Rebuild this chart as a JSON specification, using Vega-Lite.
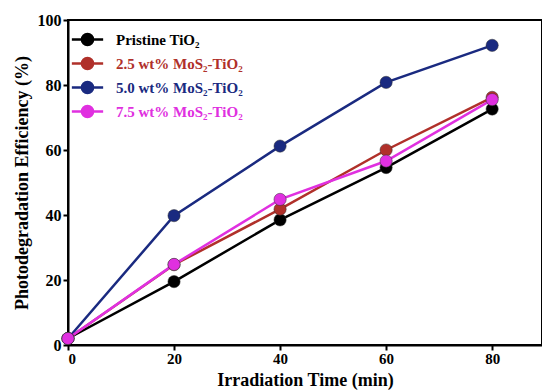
{
  "$schema": "https://vega.github.io/schema/vega-lite/v6.json",
  "width": 474,
  "height": 325,
  "autosize": "none",
  "padding": {"left": 68, "top": 20, "right": 0, "bottom": 47},
  "background": "white",
  "config": {
    "view": {"stroke": "black", "strokeWidth": 2},
    "font": "Liberation Serif"
  },
  "data": {
    "values": [
      {"t": 0, "e": 2.0, "s": "Pristine TiO₂"},
      {"t": 20, "e": 19.5, "s": "Pristine TiO₂"},
      {"t": 40, "e": 38.5, "s": "Pristine TiO₂"},
      {"t": 60, "e": 54.6, "s": "Pristine TiO₂"},
      {"t": 80, "e": 72.6, "s": "Pristine TiO₂"},
      {"t": 0, "e": 2.0, "s": "2.5 wt% MoS₂-TiO₂"},
      {"t": 20, "e": 24.7, "s": "2.5 wt% MoS₂-TiO₂"},
      {"t": 40, "e": 41.8, "s": "2.5 wt% MoS₂-TiO₂"},
      {"t": 60, "e": 60.0, "s": "2.5 wt% MoS₂-TiO₂"},
      {"t": 80, "e": 76.2, "s": "2.5 wt% MoS₂-TiO₂"},
      {"t": 0, "e": 2.0, "s": "5.0 wt% MoS₂-TiO₂"},
      {"t": 20, "e": 39.8, "s": "5.0 wt% MoS₂-TiO₂"},
      {"t": 40, "e": 61.2, "s": "5.0 wt% MoS₂-TiO₂"},
      {"t": 60, "e": 80.8, "s": "5.0 wt% MoS₂-TiO₂"},
      {"t": 80, "e": 92.2, "s": "5.0 wt% MoS₂-TiO₂"},
      {"t": 0, "e": 2.0, "s": "7.5 wt% MoS₂-TiO₂"},
      {"t": 20, "e": 24.8, "s": "7.5 wt% MoS₂-TiO₂"},
      {"t": 40, "e": 44.8, "s": "7.5 wt% MoS₂-TiO₂"},
      {"t": 60, "e": 56.6, "s": "7.5 wt% MoS₂-TiO₂"},
      {"t": 80, "e": 75.5, "s": "7.5 wt% MoS₂-TiO₂"}
    ]
  },
  "encoding": {
    "x": {
      "field": "t", "type": "quantitative",
      "scale": {"domain": [0, 89.4], "nice": false},
      "axis": {
        "title": "Irradiation Time (min)",
        "values": [0, 20, 40, 60, 80],
        "grid": false,
        "domainColor": "black", "domainWidth": 2,
        "tickColor": "black", "tickWidth": 2, "tickSize": 5,
        "labelFont": "Liberation Serif", "labelFontWeight": "bold", "labelFontSize": 15, "labelColor": "black",
        "labelPadding": 1,
        "titleFont": "Liberation Serif", "titleFontWeight": "bold", "titleFontSize": 18, "titleColor": "black",
        "titlePadding": 5
      }
    },
    "y": {
      "field": "e", "type": "quantitative",
      "scale": {"domain": [0, 100], "nice": false},
      "axis": {
        "title": "Photodegradation Efficiency (%)",
        "values": [0, 20, 40, 60, 80, 100],
        "grid": false,
        "domainColor": "black", "domainWidth": 2,
        "tickColor": "black", "tickWidth": 2, "tickSize": 5,
        "labelFont": "Liberation Serif", "labelFontWeight": "bold", "labelFontSize": 16, "labelColor": "black",
        "labelPadding": 2,
        "titleFont": "Liberation Serif", "titleFontWeight": "bold", "titleFontSize": 18, "titleColor": "black",
        "titlePadding": 6
      }
    },
    "color": {
      "field": "s", "type": "nominal",
      "sort": ["Pristine TiO₂", "2.5 wt% MoS₂-TiO₂", "5.0 wt% MoS₂-TiO₂", "7.5 wt% MoS₂-TiO₂"],
      "scale": {
        "domain": ["Pristine TiO₂", "2.5 wt% MoS₂-TiO₂", "5.0 wt% MoS₂-TiO₂", "7.5 wt% MoS₂-TiO₂"],
        "range": ["#000000", "#b0302a", "#1a2a80", "#e030e0"]
      },
      "legend": {
        "title": null,
        "orient": "top-left",
        "offset": 7,
        "symbolType": "M -1.4 0 L -0.5 0 M 0.5 0 L 1.4 0 M 0.5 0 A 0.5 0.5 0 1 1 -0.5 0 A 0.5 0.5 0 1 1 0.5 0",
        "symbolSize": 500,
        "symbolStrokeWidth": 2.5,
        "symbolOpacity": 1,
        "labelFont": "Liberation Serif", "labelFontWeight": "bold", "labelFontSize": 15,
        "labelColor": {"expr": "scale('color', datum.value)"},
        "labelOffset": 16,
        "rowPadding": 0
      }
    }
  },
  "layer": [
    {"mark": {"type": "line", "strokeWidth": 2.5}},
    {"mark": {"type": "point", "filled": true, "size": 150, "opacity": 1, "stroke": "#333", "strokeWidth": 0.5}}
  ]
}
